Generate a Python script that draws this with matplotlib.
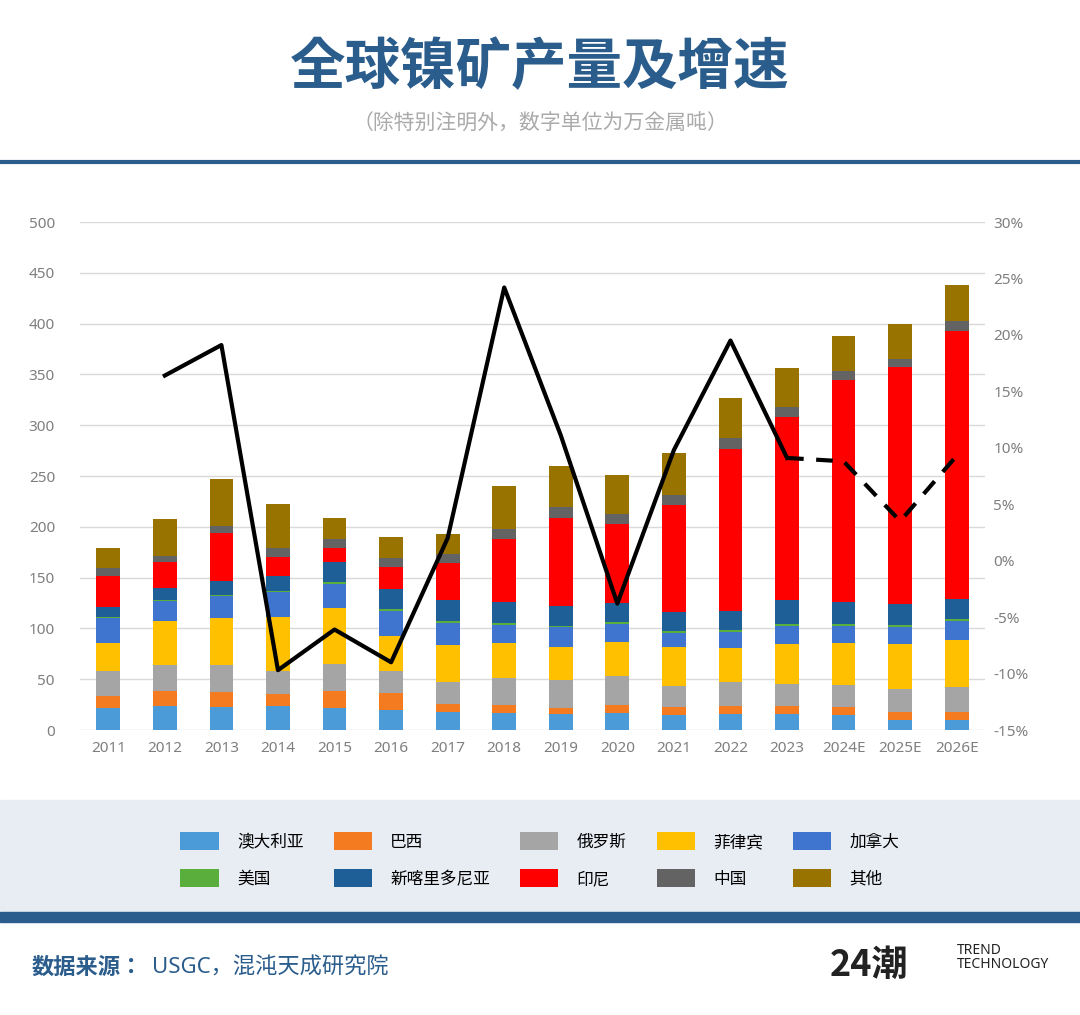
import matplotlib
matplotlib.use("Agg")
import matplotlib.pyplot as plt
import numpy as np
from matplotlib.patches import Rectangle
from matplotlib.lines import Line2D
from matplotlib import font_manager as fm

for f in sorted(fm.findSystemFonts()):
    if 'cjk' in f.lower():
        try:
            fm.fontManager.addfont(f)
        except Exception:
            pass
names_avail = sorted(set(f.name for f in fm.fontManager.ttflist))
fam = None
for pref in ['Noto Sans CJK SC', 'Noto Sans CJK JP', 'Noto Sans CJK TC', 'Noto Sans CJK KR']:
    if pref in names_avail:
        fam = pref; break
if fam is None:
    for n in names_avail:
        if 'Sans' in n and 'CJK' in n:
            fam = n; break
fam = fam or 'Noto Sans CJK SC'
plt.rcParams['font.family'] = ['Noto Sans', fam]

years = ["2011","2012","2013","2014","2015","2016","2017","2018","2019","2020","2021","2022","2023","2024E","2025E","2026E"]
names = ["澳大利亚","巴西","俄罗斯","菲律宾","加拿大","美国","新喀里多尼亚","印尼","中国","其他"]
colors = ["#4a9bd8","#f47b20","#a5a5a5","#ffc000","#3f74cf","#5aae3c","#1f5f98","#ff0000","#636363","#997300"]
australia = [22,24,23,24,22,20,18,17,16,17,15,16,16,15,10,10]
brazil    = [11,14,14,11,16,16,8,8,6,8,8,8,8,8,8,8]
russia    = [25,26,27,23,27,22,21,26,27,28,20,23,21,21,22,24]
philippines=[28,43,46,53,55,35,37,35,33,34,39,34,40,42,45,47]
canada    = [24,20,22,25,24,24,21,17,19,17,13,15,17,16,16,18]
usa       = [1,1,1,1,2,2,2,2,1,2,2,2,2,2,2,2]
new_caledonia=[10,12,14,15,19,20,21,21,20,19,19,19,24,22,21,20]
indonesia = [31,25,47,18,14,21,36,62,87,78,105,160,180,218,233,264]
china     = [7,6,7,9,9,9,9,10,10,10,10,10,10,9,8,10]
others    = [20,37,46,43,21,21,20,42,41,38,42,40,38,35,35,35]
growth    = [None,16.4,19.1,-9.7,-6.1,-9.0,2.0,24.2,11.1,-3.8,9.8,19.5,9.1,8.8,3.5,9.3]

series = [australia,brazil,russia,philippines,canada,usa,new_caledonia,indonesia,china,others]

fig = plt.figure(figsize=(10.8,10.15), dpi=100)
W,H = 1080,1015
def fy(p): return 1-p/H

fig.text(0.5, fy(70), "全球镍矿产量及增速", ha='center', va='center', fontsize=40, fontweight='bold', color='#2b5d8c')
fig.text(0.5, fy(124), "（除特别注明外，数字单位为万金属吨）", ha='center', va='center', fontsize=15, color='#aaaaaa')
fig.add_artist(Line2D([0,1],[fy(162),fy(162)], color='#2b5d8c', lw=3))

ax = fig.add_axes([80/W, fy(730), (985-80)/W, (730-222)/H])
x = np.arange(len(years))
bottom = np.zeros(len(years))
for s,c,n in zip(series,colors,names):
    ax.bar(x, s, 0.42, bottom=bottom, color=c, label=n)
    bottom += np.array(s)
ax.set_ylim(0,500)
ax.set_xlim(-0.5, len(years)-0.5)
ax.set_yticks(range(0,501,50))
ax.grid(axis='y', color='#d9d9d9', lw=1)
ax.set_axisbelow(True)
for sp in ax.spines.values(): sp.set_visible(False)
ax.set_xticks(x); ax.set_xticklabels(years)
ax.tick_params(length=0, colors='#7f7f7f', labelsize=11, pad=8)
ax.tick_params(axis='y', pad=18)

ax2 = ax.twinx()
ax2.set_ylim(-15,30)
ax2.set_yticks(range(-15,31,5))
ax2.set_yticklabels([f"{v}%" for v in range(-15,31,5)])
for sp in ax2.spines.values(): sp.set_visible(False)
ax2.tick_params(length=0, colors='#7f7f7f', labelsize=11, pad=6)
ax2.plot(x[1:13], growth[1:13], color='black', lw=3)
ax2.plot(x[12:], growth[12:], color='black', lw=3, ls=(0,(4,3)))

fig.add_artist(Rectangle((0,fy(912)),1,(912-800)/H, color='#e8ecf3', zorder=0))
fig.add_artist(Rectangle((0,fy(922)),1,10/H, color='#2b5d8c', zorder=0))
handles,labels = ax.get_legend_handles_labels()
order = [0,5,1,6,2,7,3,8,4,9]
fig.legend([handles[i] for i in order], [labels[i] for i in order], loc='center', bbox_to_anchor=(0.5, fy(860)), ncol=5, frameon=False,
           fontsize=12, handlelength=2.3, handleheight=1.3, handletextpad=1.1, columnspacing=1.8, labelspacing=1.1)

fig.text(32/W, fy(968), "数据来源：", fontsize=16, fontweight='bold', color='#2b5d8c', va='center')
fig.text(152/W, fy(968), "USGC，混沌天成研究院", fontsize=16, color='#2b5d8c', va='center')
fig.text(830/W, fy(965), "24潮", fontsize=26, fontweight='bold', fontfamily=fam, color='#222222', va='center')
fig.text(957/W, fy(950), "TREND", fontsize=10, fontweight='bold', color='#222222', va='center')
fig.text(957/W, fy(964), "TECHNOLOGY", fontsize=10, fontweight='bold', color='#222222', va='center')

fig.savefig("out.png", dpi=100, facecolor='white')
